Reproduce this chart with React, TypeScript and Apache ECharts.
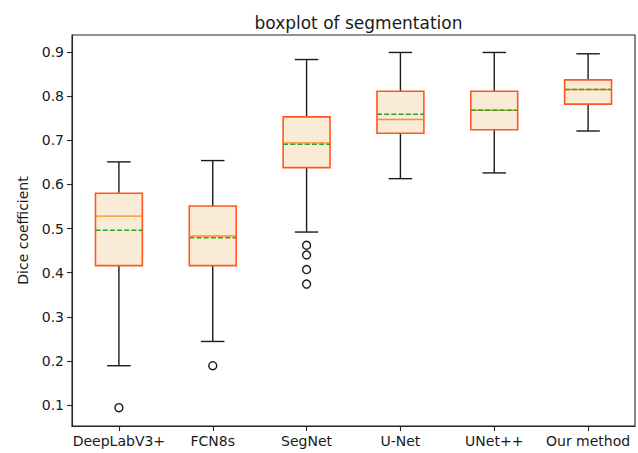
import React, { useEffect, useRef } from "react";
import * as echarts from "echarts";

const categories = ["DeepLabV3+", "FCN8s", "SegNet", "U-Net", "UNet++", "Our method"];
const lowWhisker = [0.189, 0.244, 0.492, 0.613, 0.626, 0.721];
const q1 = [0.416, 0.416, 0.638, 0.716, 0.724, 0.782];
const median = [0.528, 0.483, 0.694, 0.747, 0.768, 0.815];
const q3 = [0.580, 0.551, 0.753, 0.811, 0.811, 0.837];
const highWhisker = [0.651, 0.654, 0.883, 0.899, 0.899, 0.896];
const means = [0.496, 0.479, 0.691, 0.759, 0.768, 0.815];
const outliers: number[][] = [[0.094], [0.189], [0.462, 0.440, 0.407, 0.374], [], [], []];
const yTicks = [0.1, 0.2, 0.3, 0.4, 0.5, 0.6, 0.7, 0.8, 0.9];

const FONT = "DejaVu Sans";
const TEXT = "#1a1a1a";

export default function App() {
  const ref = useRef<HTMLDivElement>(null);
  useEffect(() => {
    if (!ref.current) return;
    const chart = echarts.init(ref.current, undefined, { renderer: "svg" });
    const boxData = categories.map((_, i) => [
      i,
      lowWhisker[i],
      q1[i],
      median[i],
      q3[i],
      highWhisker[i],
      means[i],
    ]);
    const outlierData: number[][] = [];
    outliers.forEach((vals, i) => vals.forEach((v) => outlierData.push([i, v])));

    chart.setOption({
      animation: false,
      backgroundColor: "#ffffff",
      title: {
        text: "boxplot of segmentation",
        left: 353.5,
        top: 9,
        textAlign: "center",
        textStyle: { fontFamily: FONT, fontSize: 17, fontWeight: "normal", color: TEXT },
      },
      grid: {
        left: 72,
        right: 3,
        top: 35,
        bottom: 27,
        show: true,
        borderColor: "#262626",
        borderWidth: 1.1,
        backgroundColor: "transparent",
      },
      xAxis: {
        type: "category",
        data: categories,
        boundaryGap: true,
        axisLine: { show: true, lineStyle: { color: "#262626", width: 1.1 } },
        axisTick: { show: true, alignWithLabel: true, length: 5, lineStyle: { color: "#262626", width: 1.1 } },
        axisLabel: { fontFamily: FONT, fontSize: 14, color: TEXT, margin: 8, interval: 0 },
        splitLine: { show: false },
      },
      yAxis: {
        type: "value",
        min: 0.0524,
        max: 0.9386,
        name: "Dice coefficient",
        nameLocation: "middle",
        nameGap: 42,
        nameTextStyle: { fontFamily: FONT, fontSize: 14, color: TEXT },
        axisLine: { show: true, lineStyle: { color: "#262626", width: 1.1 } },
        axisTick: { show: true, length: 5, customValues: yTicks, lineStyle: { color: "#262626", width: 1.1 } },
        axisLabel: {
          fontFamily: FONT,
          fontSize: 14,
          color: TEXT,
          margin: 8,
          customValues: yTicks,
          formatter: (v: number) => v.toFixed(1),
        },
        splitLine: { show: false },
      },
      series: [
        {
          type: "custom",
          data: boxData,
          encode: { x: 0, y: [1, 2, 3, 4, 5, 6] },
          renderItem: (params: any, api: any) => {
            const idx = api.value(0);
            const band = api.size([1, 0])[0];
            const bw = band * 0.5;
            const cw = band * 0.25;
            const pLow = api.coord([idx, api.value(1)]);
            const pQ1 = api.coord([idx, api.value(2)]);
            const pMed = api.coord([idx, api.value(3)]);
            const pQ3 = api.coord([idx, api.value(4)]);
            const pHigh = api.coord([idx, api.value(5)]);
            const pMean = api.coord([idx, api.value(6)]);
            const x = pMed[0];
            const black = { stroke: "#1a1a1a", lineWidth: 1.4, fill: null };
            return {
              type: "group",
              children: [
                { type: "line", shape: { x1: x, y1: pQ1[1], x2: x, y2: pLow[1] }, style: black },
                { type: "line", shape: { x1: x, y1: pQ3[1], x2: x, y2: pHigh[1] }, style: black },
                { type: "line", shape: { x1: x - cw / 2, y1: pLow[1], x2: x + cw / 2, y2: pLow[1] }, style: black },
                { type: "line", shape: { x1: x - cw / 2, y1: pHigh[1], x2: x + cw / 2, y2: pHigh[1] }, style: black },
                {
                  type: "rect",
                  shape: { x: x - bw / 2, y: pQ3[1], width: bw, height: pQ1[1] - pQ3[1] },
                  style: { fill: "#FAEBD7", stroke: "#FF5722", lineWidth: 1.6 },
                },
                {
                  type: "line",
                  shape: { x1: x - bw / 2, y1: pMed[1], x2: x + bw / 2, y2: pMed[1] },
                  style: { stroke: "#FF8C1A", lineWidth: 1.4 },
                },
                {
                  type: "line",
                  shape: { x1: x - bw / 2, y1: pMean[1], x2: x + bw / 2, y2: pMean[1] },
                  style: { stroke: "#2CA02C", lineWidth: 1.4, lineDash: [5, 2.2] },
                },
              ],
            };
          },
          z: 2,
        },
        {
          type: "scatter",
          data: outlierData,
          symbol: "circle",
          symbolSize: 8,
          itemStyle: { color: "#ffffff", borderColor: "#1a1a1a", borderWidth: 1.4, opacity: 1 },
          z: 3,
        },
      ],
    });
    return () => chart.dispose();
  }, []);
  return (
    <div
      ref={ref}
      style={{ position: "fixed", left: 0, top: 0, width: 638, height: 453, background: "#fff" }}
    />
  );
}
